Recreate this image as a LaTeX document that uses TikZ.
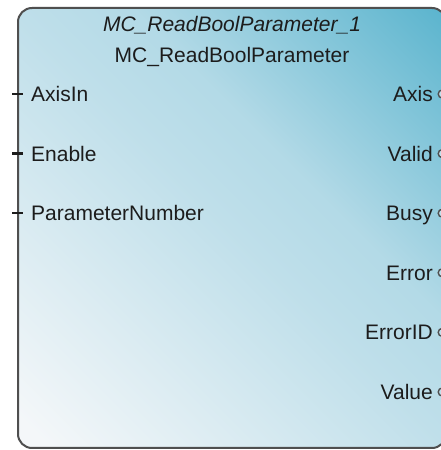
\documentclass[tikz,border=0pt]{standalone}
\usepackage{fontspec}
\setmainfont{Liberation Sans}
\usetikzlibrary{positioning}
\usepackage{xcolor}
\definecolor{Frame}{HTML}{4F4F4F}
\definecolor{Teal}{HTML}{58B3CD}
\definecolor{Mist}{HTML}{BFDFEA}
\definecolor{Pale}{HTML}{F4F7F9}
\definecolor{Ink}{HTML}{1C1C1C}
\pgfdeclarehorizontalshading{fbshade}{100bp}{color(0bp)=(Pale); color(17bp)=(Pale); color(50bp)=(Mist); color(60bp)=(Mist!88!Teal); color(86bp)=(Teal); color(100bp)=(Teal)}

\begin{document}
\begin{tikzpicture}[x=1pt,y=1pt,
    fbox/.style={draw=Frame,line width=2pt,rounded corners=14pt,minimum width=428pt,minimum height=440pt,shade,shading=fbshade,shading angle=45},
    pinlabel/.style={inner sep=0pt,text=Ink,font=\fontsize{21}{25}\selectfont},
    pinline/.style={draw=Ink,line width=2.2pt},
    outdot/.style={circle,draw=Frame,line width=1.4pt,fill=Mist,inner sep=0pt,minimum size=8pt}
  ]
    \clip (0,0) rectangle (441,450);
    \fill[white] (0,0) rectangle (441,450);
    \node[fbox] (fb) at (232,222) {};
    \node[pinlabel,font=\fontsize{21}{25}\selectfont\itshape,anchor=base] (inst) at (232,418) {MC\_ReadBoolParameter\_1};
    \node[pinlabel,anchor=base] (ftype) at (232,387) {MC\_ReadBoolParameter};
    % inputs
    \foreach \txt/\nm [count=\i from 0] in {AxisIn/axisin,Enable/enable,ParameterNumber/parnum}{
      \node[pinlabel,anchor=base west] (\nm) at (31,{348.5-59.6*\i}) {\txt};
      \draw[pinline] ([xshift=-19pt,yshift=7.5pt]\nm.base west) -- ([xshift=-8pt,yshift=7.5pt]\nm.base west);
    }
    % outputs
    \foreach \txt/\nm [count=\i from 0] in {Axis/axis,Valid/valid,Busy/busy,Error/error,ErrorID/errorid,Value/value}{
      \node[pinlabel,anchor=base east] (\nm) at (433,{348.5-59.6*\i}) {\txt};
      \node[outdot,right=4.5pt of \nm.base east,yshift=7.5pt,anchor=west] (dot-\nm) {};
    }
  \end{tikzpicture}
\end{document}
